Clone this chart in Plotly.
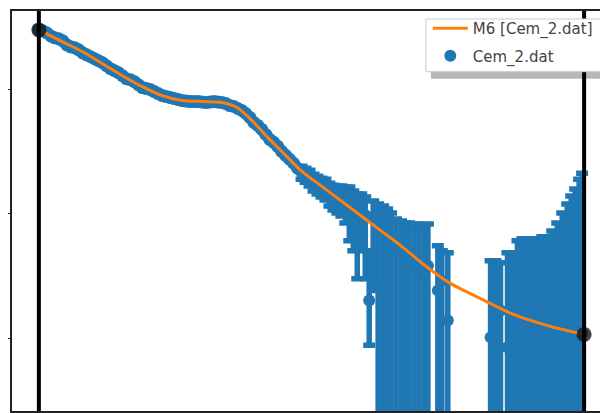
import plotly.graph_objects as go

# ---- model curve M6 [Cem_2.dat] ----
model_q = [0.000, 0.024, 0.044, 0.064, 0.084, 0.104, 0.124, 0.144, 0.164, 0.184, 0.199,
           0.214, 0.229, 0.244, 0.264, 0.284, 0.304, 0.324, 0.344, 0.364, 0.391, 0.414,
           0.444, 0.477, 0.514, 0.548]
model_y = [3.10, 2.98, 2.88, 2.76, 2.64, 2.53, 2.44, 2.39, 2.38, 2.37, 2.32,
           2.19, 2.03, 1.88, 1.68, 1.53, 1.38, 1.23, 1.08, 0.93, 0.71, 0.55,
           0.40, 0.24, 0.12, 0.04]

# ---- data Cem_2.dat ----
data_q = [0.000, 0.004, 0.008, 0.012, 0.016, 0.020, 0.024, 0.028, 0.032, 0.036,
          0.040, 0.044, 0.048, 0.052, 0.056, 0.060, 0.064, 0.068, 0.072, 0.076,
          0.080, 0.084, 0.088, 0.092, 0.096, 0.100, 0.104, 0.108, 0.112, 0.116,
          0.120, 0.124, 0.128, 0.132, 0.136, 0.140, 0.144, 0.148, 0.152, 0.156,
          0.160, 0.164, 0.168, 0.172, 0.176, 0.180, 0.184, 0.188, 0.192, 0.196,
          0.200, 0.204, 0.208, 0.212, 0.216, 0.220, 0.224, 0.228, 0.232, 0.236,
          0.240, 0.244, 0.248, 0.252, 0.256, 0.260, 0.264, 0.268, 0.272, 0.276,
          0.280, 0.284, 0.288, 0.292, 0.296, 0.300,
          0.304, 0.308, 0.312, 0.316, 0.320, 0.324, 0.328, 0.332, 0.336, 0.341, 0.346,
          0.350, 0.354, 0.359, 0.364, 0.368, 0.372, 0.377, 0.382, 0.387, 0.391, 0.401,
          0.405, 0.411,
          0.454, 0.459, 0.464, 0.471, 0.476, 0.481, 0.486, 0.491, 0.496, 0.501, 0.506,
          0.511, 0.516, 0.521, 0.526, 0.531, 0.535, 0.539, 0.543, 0.546]
data_y = [3.10, 3.09, 3.07, 3.04, 3.02, 3.01, 2.99, 2.95, 2.93, 2.92,
          2.90, 2.87, 2.85, 2.83, 2.81, 2.79, 2.77, 2.74, 2.71, 2.69,
          2.67, 2.64, 2.61, 2.60, 2.58, 2.55, 2.52, 2.51, 2.50, 2.48,
          2.46, 2.44, 2.43, 2.42, 2.41, 2.40, 2.39, 2.385, 2.38, 2.38,
          2.38, 2.375, 2.37, 2.375, 2.38, 2.375, 2.37, 2.36, 2.34, 2.33,
          2.31, 2.29, 2.26, 2.22, 2.17, 2.14, 2.10, 2.05, 2.00, 1.97,
          1.93, 1.88, 1.84, 1.80, 1.76, 1.71, 1.67, 1.65, 1.62, 1.58,
          1.55, 1.53, 1.51, 1.46, 1.43, 1.41,
          1.39, 1.38, 1.35, 1.31, 1.28, 1.26, 1.24, 0.38, 1.22, 0.53, 1.13,
          1.10, 0.98, 0.93, 0.88, 0.83, 0.78, 0.76, 0.70, 0.66, 0.73, 0.48,
          0.58, 0.18,
          0.01, 0.38, 0.28, -0.09, 0.28, 0.23, 0.38, 0.20, 0.18, 0.16, 0.18,
          0.14, 0.13, 0.12, 0.11, 0.09, 0.08, 0.07, 0.06, 0.05]
err_up = [0.02, 0.02, 0.02, 0.02, 0.02, 0.02, 0.02, 0.02, 0.02, 0.02,
          0.02, 0.02, 0.02, 0.02, 0.02, 0.02, 0.02, 0.02, 0.02, 0.02,
          0.02, 0.02, 0.02, 0.02, 0.02, 0.02, 0.02, 0.02, 0.02, 0.02,
          0.02, 0.02, 0.02, 0.02, 0.02, 0.02, 0.02, 0.02, 0.02, 0.02,
          0.02, 0.02, 0.02, 0.02, 0.02, 0.02, 0.02, 0.02, 0.02, 0.02,
          0.02, 0.03, 0.03, 0.03, 0.03, 0.03, 0.03, 0.03, 0.03, 0.03,
          0.04, 0.04, 0.04, 0.04, 0.05, 0.05, 0.06, 0.06, 0.07, 0.07,
          0.08, 0.08, 0.09, 0.10, 0.11, 0.12,
          0.14, 0.14, 0.17, 0.17, 0.17, 0.19, 0.18, 0.50, 0.16, 0.82, 0.20,
          0.20, 0.28, 0.27, 0.30, 0.33, 0.38, 0.39, 0.45, 0.47, 0.42, 0.45,
          0.30, 0.68,
          0.77, 0.40, 0.48, 0.95, 0.58, 0.75, 0.62, 0.80, 0.80, 0.84, 0.84,
          0.88, 0.95, 1.04, 1.15, 1.26, 1.35, 1.43, 1.54, 1.61]
err_down = [0.02, 0.02, 0.02, 0.02, 0.02, 0.02, 0.02, 0.02, 0.02, 0.02,
            0.02, 0.02, 0.02, 0.02, 0.02, 0.02, 0.02, 0.02, 0.02, 0.02,
            0.02, 0.02, 0.02, 0.02, 0.02, 0.02, 0.02, 0.02, 0.02, 0.02,
            0.02, 0.02, 0.02, 0.02, 0.02, 0.02, 0.02, 0.02, 0.02, 0.02,
            0.02, 0.02, 0.02, 0.02, 0.02, 0.02, 0.02, 0.02, 0.02, 0.02,
            0.02, 0.03, 0.03, 0.03, 0.03, 0.03, 0.03, 0.03, 0.03, 0.03,
            0.04, 0.04, 0.05, 0.05, 0.06, 0.06, 0.07, 0.08, 0.09, 0.10,
            0.10, 0.11, 0.12, 0.13, 0.14, 0.15,
            0.16, 0.22, 0.37, 0.43, 0.68, 0.38, 0.64, 0.45, 0.74, 2.15, 2.75,
            2.72, 2.60, 2.55, 2.50, 2.45, 2.40, 2.38, 2.32, 2.28, 2.35, 2.10,
            2.20, 1.80,
            1.63, 2.00, 1.90, 1.53, 1.90, 1.85, 2.00, 1.82, 1.80, 1.78, 1.80,
            1.76, 1.75, 1.74, 1.73, 1.71, 1.70, 1.69, 1.68, 1.67]

q_min = 0.000
q_max = 0.548
endpoint_y = [3.10, 0.04]

y_ticks = [0.0, 1.25, 2.5]

BLUE = "#1f77b4"
ORANGE = "#ff7f0e"

# points with tiny errors (caps hidden inside the band) vs. points with visible caps
n_low = 66

fig = go.Figure()

fig.add_trace(go.Scatter(
    x=data_q[:n_low], y=data_y[:n_low], mode="markers", name="Cem_2.dat",
    legendgroup="b", showlegend=False,
    marker=dict(color=BLUE, size=13),
    error_y=dict(type="data", symmetric=False, array=err_up[:n_low],
                 arrayminus=err_down[:n_low], color=BLUE, thickness=5.5, width=0),
))
fig.add_trace(go.Scatter(
    x=data_q[n_low:], y=data_y[n_low:], mode="markers", name="Cem_2.dat",
    legendrank=2, legendgroup="b",
    marker=dict(color=BLUE, size=12),
    error_y=dict(type="data", symmetric=False, array=err_up[n_low:],
                 arrayminus=err_down[n_low:], color=BLUE, thickness=5.5, width=6),
))

fig.add_trace(go.Scatter(
    x=model_q, y=model_y, mode="lines", name="M6 [Cem_2.dat]",
    legendrank=1, legendgroup="a",
    line=dict(color=ORANGE, width=3, shape="spline", smoothing=0.8),
))

fig.add_trace(go.Scatter(
    x=[q_min, q_max], y=endpoint_y, mode="markers", showlegend=False,
    marker=dict(color="rgba(20,20,20,0.8)", size=15),
))

for qv in (q_min, q_max):
    fig.add_shape(type="line", xref="x", yref="paper", x0=qv, x1=qv, y0=0, y1=1,
                  line=dict(color="black", width=4), layer="above")

# legend frame with drop shadow
fig.add_shape(type="rect", xref="paper", yref="paper",
              x0=0.7052, x1=0.995, y0=0.8308, y1=0.9627,
              fillcolor="rgba(0,0,0,0.28)", line=dict(width=0), layer="above")
fig.add_shape(type="rect", xref="paper", yref="paper",
              x0=0.6968, x1=0.9933, y0=0.8483, y1=0.9801,
              fillcolor="white", line=dict(color="#cccccc", width=1), layer="above")

fig.update_layout(
    width=608, height=413,
    margin=dict(l=1, r=10, t=1, b=10),
    paper_bgcolor="white", plot_bgcolor="white",
    font=dict(family="DejaVu Sans", size=15, color="#444"),
    showlegend=True,
    legend=dict(x=0.700, y=0.9975, xanchor="left", yanchor="top",
                bgcolor="rgba(0,0,0,0)", borderwidth=0,
                traceorder="grouped", tracegroupgap=5, itemwidth=35,
                font=dict(family="DejaVu Sans", size=15, color="#444")),
    xaxis=dict(range=[-0.027, 0.570], showgrid=False, zeroline=False,
               showticklabels=False, ticks="", showline=True, mirror=True,
               linecolor="#222", linewidth=1.5),
    yaxis=dict(range=[-0.73, 3.29], showgrid=False, zeroline=False,
               showticklabels=False, tickvals=y_ticks, ticks="outside", ticklen=3,
               tickcolor="#222", showline=True, mirror=True,
               linecolor="#222", linewidth=1.5),
)

fig.write_html("out.html")
